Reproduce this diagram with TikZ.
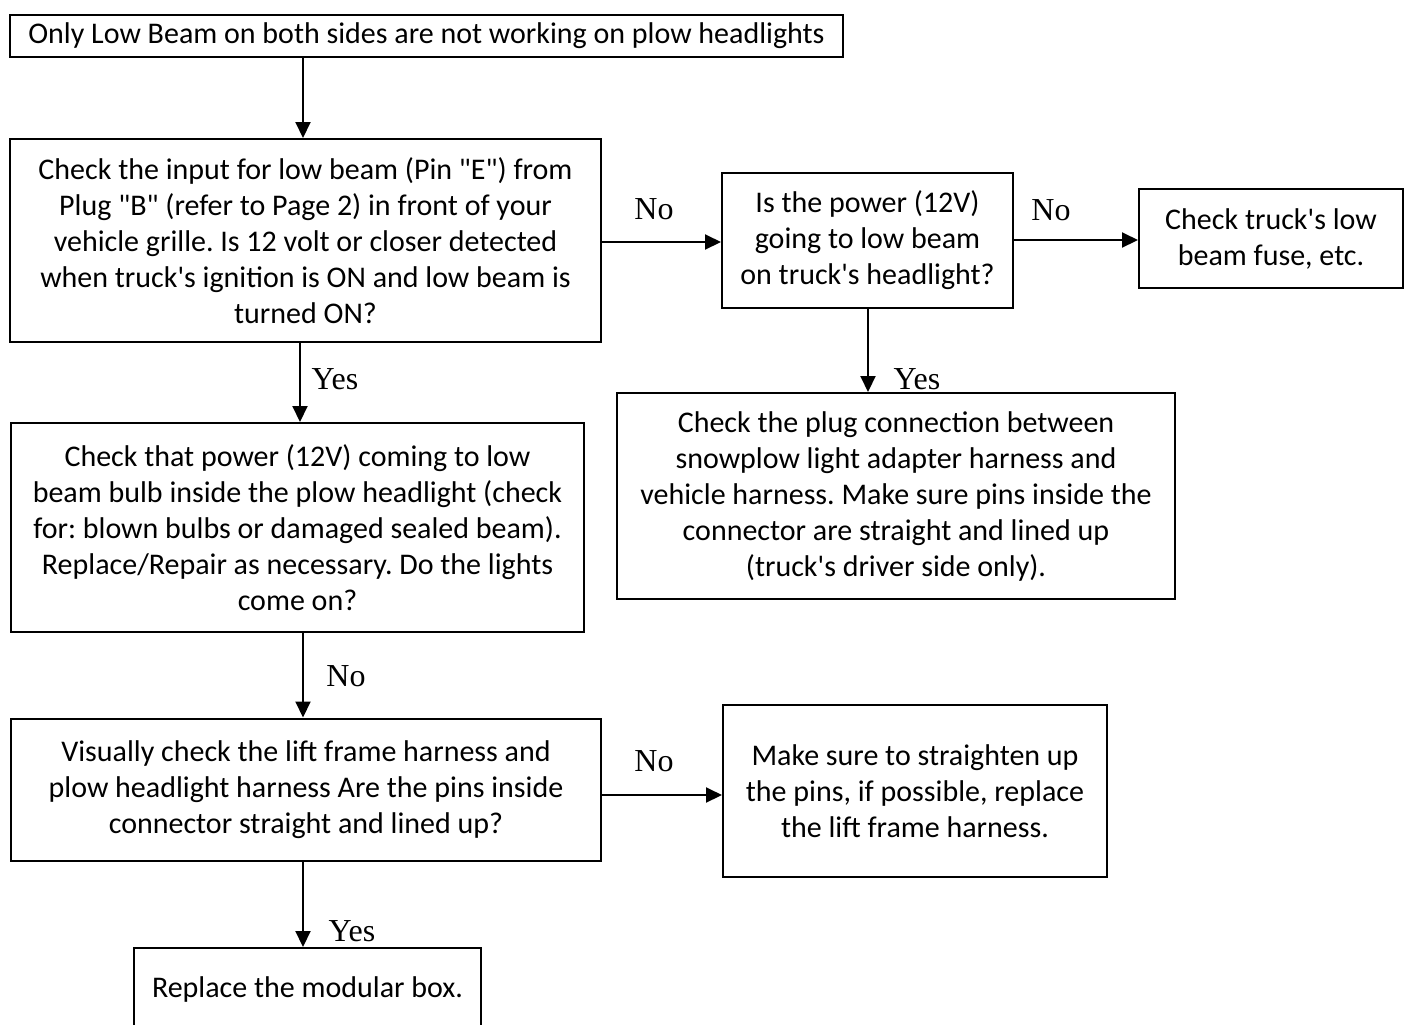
\documentclass[tikz,border=0pt]{standalone}
\usepackage{fontspec}
\setmainfont{Carlito}
\newfontfamily\lblfont{Liberation Serif}
\usetikzlibrary{arrows.meta}
\frenchspacing
\begin{document}
\begin{tikzpicture}[x=0.5pt,y=-0.5pt,
 box/.style={draw, line width=1pt, inner sep=0pt, align=center, font=\fontsize{15}{18}\selectfont},
 arr/.style={line width=1pt, -{Triangle[length=8pt,width=7.5pt]}},
 lbl/.style={font=\lblfont\fontsize{16}{18}\selectfont, inner sep=0pt}]
\useasboundingbox (0,0) rectangle (1408,1024);
\node[box, minimum width=416.5pt, minimum height=21pt] (b1) at (426.5,36) {Only Low Beam on both sides are not working on plow headlights};
\node[box, minimum width=295.5pt, minimum height=101.5pt] (b2) at (305.5,240.5) {Check the input for low beam (Pin \textquotedbl E\textquotedbl) from\\ Plug \textquotedbl B\textquotedbl\ (refer to Page 2) in front of your\\ vehicle grille. Is 12 volt or closer detected\\ when truck\textquotesingle s ignition is ON and low beam is\\ turned ON?};
\node[box, minimum width=145.5pt, minimum height=67.5pt] (b3) at (867.5,240.5) {Is the power (12V)\\ going to low beam\\ on truck\textquotesingle s headlight?};
\node[box, minimum width=132pt, minimum height=49.5pt] (b4) at (1271,238.5) {Check truck\textquotesingle s low\\ beam fuse, etc.};
\node[box, minimum width=279pt, minimum height=103pt] (b5) at (896,496) {Check the plug connection between\\ snowplow light adapter harness and\\ vehicle harness. Make sure pins inside the\\ connector are straight and lined up\\ (truck\textquotesingle s driver side only).};
\node[box, minimum width=286.5pt, minimum height=104.5pt] (b6) at (297.5,527.5) {Check that power (12V) coming to low\\ beam bulb inside the plow headlight (check\\ for: blown bulbs or damaged sealed beam).\\ Replace/Repair as necessary. Do the lights\\ come on?};
\node[box, minimum width=295pt, minimum height=71pt] (b7) at (306,789.5) {Visually check the lift frame harness and\\ plow headlight harness Are the pins inside\\ connector straight and lined up?};
\node[box, minimum width=192pt, minimum height=86pt] (b8) at (915,791) {Make sure to straighten up\\ the pins, if possible, replace\\ the lift frame harness.};
\node[box, minimum width=173.5pt, minimum height=41pt] (b9) at (307.5,989) {Replace the modular box.};
\coordinate (x303) at (303,0);
\coordinate (x300) at (300,0);
\coordinate (x868) at (868,0);
\coordinate (y242) at (0,242);
\coordinate (y240) at (0,240);
\coordinate (y795) at (0,795);
\draw[arr] (b1.south -| x303) -- (b2.north -| x303);
\draw[arr] (b2.south -| x300) -- (b6.north -| x300);
\draw[arr] (b6.south -| x303) -- (b7.north -| x303);
\draw[arr] (b7.south -| x303) -- (b9.north -| x303);
\draw[arr] (b2.east |- y242) -- (b3.west |- y242);
\draw[arr] (b3.east |- y240) -- (b4.west |- y240);
\draw[arr] (b3.south -| x868) -- (b5.north -| x868);
\draw[arr] (b7.east |- y795) -- (b8.west |- y795);
\node[lbl] (l1) at (654,209) {No};
\node[lbl] (l2) at (1051,210) {No};
\node[lbl] (l3) at (654,761) {No};
\node[lbl] (l4) at (346,676) {No};
\node[lbl] (l5) at (335,379) {Yes};
\node[lbl] (l6) at (917,379) {Yes};
\node[lbl] (l7) at (352,931) {Yes};
\end{tikzpicture}
\end{document}
